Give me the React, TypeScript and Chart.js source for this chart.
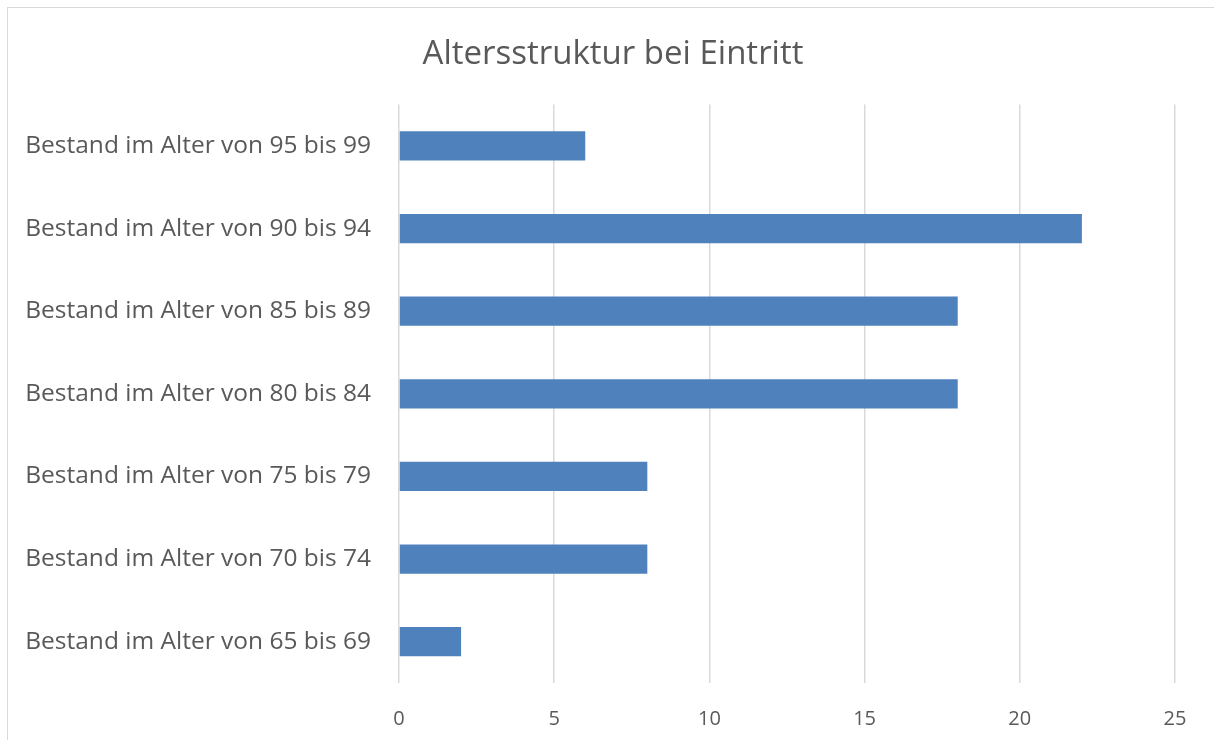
import React, { useEffect, useRef } from "react";
import { Chart, registerables } from "chart.js";

Chart.register(...registerables);

const TITLE = "Altersstruktur bei Eintritt";
const CATEGORIES = [
  "Bestand im Alter von 95 bis 99",
  "Bestand im Alter von 90 bis 94",
  "Bestand im Alter von 85 bis 89",
  "Bestand im Alter von 80 bis 84",
  "Bestand im Alter von 75 bis 79",
  "Bestand im Alter von 70 bis 74",
  "Bestand im Alter von 65 bis 69",
];
const VALUES = [6, 22, 18, 18, 8, 8, 2];
const X_MIN = 0;
const X_MAX = 25;
const X_STEP = 5;

const FONT = "'Open Sans', Lato, sans-serif";

export default function App() {
  const ref = useRef<HTMLCanvasElement | null>(null);

  useEffect(() => {
    if (!ref.current) return;
    const chart = new Chart(ref.current, {
      type: "bar",
      data: {
        labels: CATEGORIES,
        datasets: [
          {
            data: VALUES,
            backgroundColor: "#4f81bd",
            borderWidth: 0,
            categoryPercentage: 1,
            barPercentage: 0.355,
          },
        ],
      },
      options: {
        indexAxis: "y",
        animation: false,
        responsive: false,
        maintainAspectRatio: false,
        layout: { padding: 0 },
        plugins: {
          legend: { display: false },
          tooltip: { enabled: false },
          title: {
            display: true,
            text: TITLE,
            color: "#595959",
            font: { family: FONT, size: 33, weight: "normal", lineHeight: 1.2 },
            padding: { top: 35, bottom: 30 },
          },
        },
        scales: {
          x: {
            min: X_MIN,
            max: X_MAX,
            ticks: {
              stepSize: X_STEP,
              color: "#595959",
              font: { family: FONT, size: 20 },
              padding: 24,
            },
            grid: { color: "#d9d9d9", lineWidth: 1.5, drawTicks: false },
            border: { display: false },
            afterFit: (s: any) => {
              s.height = 57;
            },
          },
          y: {
            ticks: {
              color: "#595959",
              font: { family: FONT, size: 24.5 },
              padding: 28,
            },
            grid: { display: false, drawTicks: false },
            border: { display: false },
            afterFit: (s: any) => {
              s.width = 399;
            },
          },
          yRight: {
            type: "category",
            position: "right",
            labels: CATEGORIES,
            ticks: { display: false },
            grid: { display: false, drawTicks: false },
            border: { display: false },
            afterFit: (s: any) => {
              s.width = 51;
            },
          },
        } as any,
      },
    });
    return () => chart.destroy();
  }, []);

  return (
    <div
      style={{
        position: "fixed",
        left: 0,
        top: 0,
        width: 1214,
        height: 740,
        overflow: "hidden",
        background: "#fff",
      }}
    >
      <div
        style={{
          position: "absolute",
          left: 7,
          top: 7,
          width: 1300,
          height: 800,
          border: "1.5px solid #d9d9d9",
        }}
      />
      <canvas
        ref={ref}
        width={1226}
        height={740}
        style={{ position: "absolute", left: 0, top: 0, width: 1226, height: 740 }}
      />
    </div>
  );
}
